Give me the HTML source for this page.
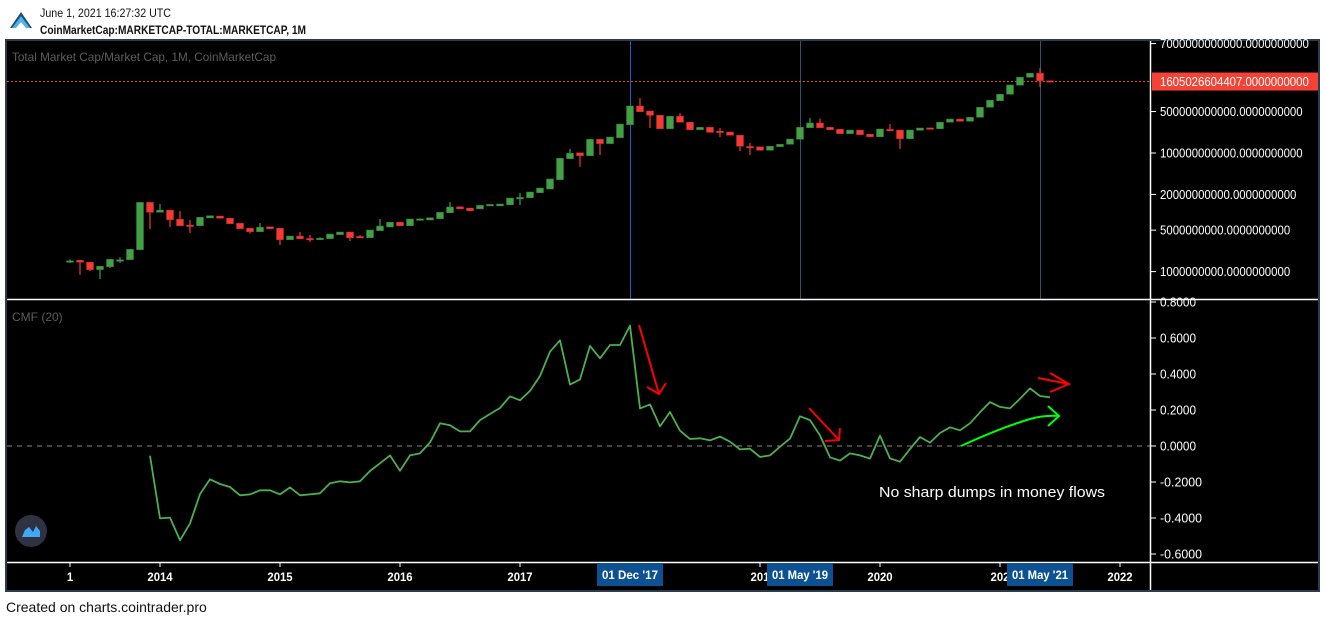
<!DOCTYPE html>
<html><head><meta charset="utf-8"><style>
html,body{margin:0;padding:0;background:#fff;width:1324px;height:622px;overflow:hidden}
svg{display:block}
text{font-family:"Liberation Sans",sans-serif}
</style></head><body>
<svg id="c" width="1324" height="622" xmlns="http://www.w3.org/2000/svg">
  <g>
    <polygon points="10,28 21,12 32,28 27,28 21,20 15,28" fill="#1b4f7a"/>
    <polygon points="12,28 21,16 30,28 26,28 21,22 16,28" fill="#4fb3e8"/>
    <text x="40" y="17" font-size="12" fill="#111" textLength="131" lengthAdjust="spacingAndGlyphs">June 1, 2021 16:27:32 UTC</text>
    <text x="40" y="34" font-size="12" font-weight="bold" fill="#111" textLength="266" lengthAdjust="spacingAndGlyphs">CoinMarketCap:MARKETCAP-TOTAL:MARKETCAP, 1M</text>
  </g>
  <rect x="5" y="39" width="1315" height="553" fill="#2a3d50"/>
  <rect x="7" y="41" width="1311" height="549" fill="#000"/>
  <g id="price"></g>
  <g id="cmf"></g>
  <g id="axes"></g>
  <text x="12" y="61" font-size="12" fill="#5d5d5d" textLength="264" lengthAdjust="spacingAndGlyphs">Total Market Cap/Market Cap, 1M, CoinMarketCap</text>
  <text x="12" y="321" font-size="12" fill="#5d5d5d">CMF (20)</text>
  <g fill="none" stroke-width="2">
    <path d="M639,325 L659,394 M647,387 L659,394 L666,383" stroke="#ff0000"/>
    <path d="M809,408 L839,440 M825,441 L839,440 L840,428" stroke="#ff0000"/>
    <path d="M1038,378 L1069,384 M1050,373 L1069,384 L1050,392" stroke="#ff0000"/>
    <path d="M961,446 Q1000,428 1030,419 Q1045,415 1059,416 M1048,406 L1059,416 L1048,426" stroke="#00ff00"/>
    <text x="879" y="497" font-size="15" fill="#fff" stroke="none" textLength="226" lengthAdjust="spacingAndGlyphs">No sharp dumps in money flows</text>
  </g>
  <g>
    <circle cx="31" cy="531" r="16" fill="#2f3241"/>
    <path d="M22,537 L25,530 L29,527 L33,532 L36,526 L40,531 L40,537 Z" fill="#3fa9f5"/>
  </g>
  <text x="6" y="612" font-size="14" fill="#111">Created on charts.cointrader.pro</text>
</svg>
<script>
// Monthly candles from Apr 2013 to Jun 2021 (values in billions USD)
const opens = [1.50,1.55,1.44,1.08,1.21,1.56,1.59,2.34,14.7,10.0,10.9,7.62,6.1,5.94,8.02,8.66,7.93,6.53,5.37,4.71,5.71,5.37,3.45,3.98,3.62,3.62,3.59,4.19,4.65,3.92,3.73,4.90,5.65,6.78,5.94,7.65,7.41,7.80,9.84,12.4,11.8,11.4,12.8,12.8,13.4,17.5,17.6,21.4,24.7,35.5,80.2,101,90.0,170,144,181,300,621,511,432,257,416,330,247,271,234,226,199,129,127,111,128,140,170,267,321,271,251,212,244,207,188,250,244,174,241,265,257,330,374,342,400,590,762,977,1387,1892,2208,1656];
const closes = [1.52,1.44,1.08,1.23,1.61,1.58,2.38,14.7,10.0,10.9,7.5,5.94,6.0,8.24,8.77,7.93,6.43,5.29,4.71,5.58,5.29,3.45,3.98,3.59,3.56,3.66,4.31,4.65,3.73,3.85,5.03,5.87,6.78,5.94,7.71,7.75,8.11,10.0,12.3,11.4,10.6,13.1,13.6,13.8,17.4,17.8,22.0,25.7,36.5,81.4,98.9,90.0,170,144,186,308,621,497,432,257,416,330,247,271,223,230,199,130,127,111,130,140,172,271,321,267,247,212,244,204,188,254,245,174,244,264,262,330,374,342,400,590,774,977,1403,1892,2208,1656,1605];
const highs = [1.60,1.58,null,null,null,1.75,null,null,null,13.8,null,10.5,7.45,null,null,null,null,null,null,6.6,null,null,null,4.65,4.14,3.8,null,null,null,4.1,null,7.71,null,null,null,7.9,null,null,14.9,null,null,null,null,null,null,21.2,null,null,null,null,117,null,null,null,null,null,null,846,null,null,null,473,null,null,null,264,null,null,147,null,null,null,null,null,389,380,null,null,null,null,null,null,308,null,null,null,null,null,null,null,null,null,null,null,null,null,null,2710,null];
const lows = [1.40,0.88,1.02,0.75,1.15,1.40,1.95,null,5.23,null,5.65,null,4.48,null,null,null,null,null,4.4,null,null,2.81,null,null,3.16,3.5,null,null,3.28,3.7,null,null,null,null,null,7.2,null,null,null,null,null,null,null,null,null,13.3,null,null,null,null,null,58.7,null,92.5,null,null,null,null,264,null,null,null,null,null,null,186,null,108,92.5,null,null,null,null,null,null,null,null,null,null,null,null,null,236,117,null,null,null,null,null,null,null,null,null,null,null,null,null,1297,null];
const startMonthIndex = 0; // Apr 2013
// CMF(20) values, Dec 2013 .. Jun 2021
const cmfStart = 8;
const cmfValues = [-0.054,-0.402,-0.398,-0.524,-0.430,-0.267,-0.185,-0.211,-0.228,-0.274,-0.269,-0.246,-0.246,-0.269,-0.230,-0.274,-0.269,-0.263,-0.207,-0.196,-0.202,-0.196,-0.139,-0.096,-0.052,-0.137,-0.052,-0.041,0.020,0.126,0.115,0.081,0.081,0.144,0.178,0.211,0.276,0.254,0.306,0.389,0.524,0.587,0.341,0.370,0.556,0.487,0.561,0.561,0.669,0.209,0.231,0.109,0.189,0.085,0.039,0.043,0.031,0.052,0.024,-0.019,-0.015,-0.061,-0.052,-0.004,0.041,0.165,0.144,0.059,-0.063,-0.081,-0.041,-0.052,-0.070,0.057,-0.069,-0.087,-0.017,0.050,0.019,0.072,0.104,0.087,0.126,0.187,0.244,0.217,0.209,0.263,0.320,0.278,0.270];
const priceTicks = [7000,500,100,20,5,1];
const priceTickLabels = ["7000000000000.0000000000","500000000000.0000000000","100000000000.0000000000","20000000000.0000000000","5000000000.0000000000","1000000000.0000000000"];
const lastPrice = 1605.026604407;
const lastPriceLabel = "1605026604407.0000000000";
const cmfTicks = [0.8,0.6,0.4,0.2,0,-0.2,-0.4,-0.6];
const cmfTickLabels = ["0.8000","0.6000","0.4000","0.2000","0.0000","-0.2000","-0.4000","-0.6000"];
const timeTickMonths = [0,9,21,33,45,57,69,81,93,105];
const timeTickLabels = ["1","2014","2015","2016","2017","201","2020","202","2022"];
const timeTickLabelMonths = [0,9,21,33,45,69,81,93,105];
const markerMonths = [56,73,97];
const markerLabels = ["01 Dec '17","01 May '19","01 May '21"];

const NS="http://www.w3.org/2000/svg";
function mk(tag,attrs,parent){const e=document.createElementNS(NS,tag);for(const k in attrs)e.setAttribute(k,attrs[k]);parent.appendChild(e);return e;}
const xOf = m => 70 + m*10;
const yP = v => 153 - 59.3*Math.log10(v/100);
const yC = v => 446 - v*180;
const price=document.getElementById('price'), cmf=document.getElementById('cmf'), axes=document.getElementById('axes');

markerMonths.forEach((m,i)=>{
  const l=mk('line',{x1:xOf(m)+0.5,x2:xOf(m)+0.5,y1:41,y2:299,stroke:i===0?'#1565c0':'#2f5378','stroke-width':1},price);
  
  
});
const lp=mk('line',{x1:7,x2:1150,y1:yP(lastPrice),y2:yP(lastPrice),stroke:'#f44336','stroke-dasharray':'2,2','stroke-width':1},price);



for(let i=0;i<opens.length;i++){
  const o=opens[i],c=closes[i],x=xOf(startMonthIndex+i);
  const up=c>=o, col=up?'#43a047':'#f23b32';
  const g=mk('g',{},price);
  
  
  const hi=highs[i]!=null?highs[i]:Math.max(o,c), lo=lows[i]!=null?lows[i]:Math.min(o,c);
  mk('line',{x1:x,x2:x,y1:yP(hi),y2:yP(lo),stroke:col,'stroke-width':1.2},g);
  const t=yP(Math.max(o,c)), b=yP(Math.min(o,c));
  mk('rect',{x:x-3.5,y:t,width:7,height:Math.max(1.5,b-t),fill:col,stroke:up?'#2e7d32':'#c62828','stroke-width':0.5},g);
}

const z=mk('line',{x1:7,x2:1150,y1:yC(0),y2:yC(0),stroke:'#888','stroke-dasharray':'5,5','stroke-width':1},cmf);


const pts=cmfValues.map((v,i)=>xOf(cmfStart+i)+','+yC(v).toFixed(1)).join(' ');
const pl=mk('polyline',{points:pts,fill:'none',stroke:'#4caf50','stroke-width':1.8,'stroke-linejoin':'round'},cmf);



mk('line',{x1:7,x2:1318,y1:299.5,y2:299.5,stroke:'#fff','stroke-width':1.5},axes);
mk('line',{x1:7,x2:1318,y1:562.5,y2:562.5,stroke:'#fff','stroke-width':1.5},axes);
mk('line',{x1:1150.5,x2:1150.5,y1:41,y2:590,stroke:'#fff','stroke-width':1.5},axes);

priceTicks.forEach((v,i)=>{
  const y=yP(v);
  mk('line',{x1:1151,x2:1156,y1:y,y2:y,stroke:'#fff'},axes);
  const s=priceTickLabels[i];
  const t=mk('text',{x:1160,y:y+4.5,'font-size':13,fill:'#fff',textLength:(s.length*6.2).toFixed(1),lengthAdjust:'spacingAndGlyphs'},axes);
  t.textContent=s;
  
  
});
const tag=mk('rect',{x:1152,y:yP(lastPrice)-9,width:166,height:18,fill:'#f44336'},axes);


const tt=mk('text',{x:1160,y:yP(lastPrice)+4.5,'font-size':13,fill:'#fff',textLength:(lastPriceLabel.length*6.2).toFixed(1),lengthAdjust:'spacingAndGlyphs'},axes);
tt.textContent=lastPriceLabel;



cmfTicks.forEach((v,i)=>{
  const y=yC(v);
  mk('line',{x1:1151,x2:1156,y1:y,y2:y,stroke:'#fff'},axes);
  const s=cmfTickLabels[i];
  const t=mk('text',{x:1160,y:y+4.5,'font-size':13,fill:'#fff',textLength:(s.length*6.0).toFixed(1),lengthAdjust:'spacingAndGlyphs'},axes);
  t.textContent=s;
  
  
});

timeTickMonths.forEach(m=>{ if(xOf(m)<1150) mk('line',{x1:xOf(m),x2:xOf(m),y1:563,y2:567,stroke:'#fff'},axes); });
timeTickLabels.forEach((s,i)=>{
  const t=mk('text',{x:xOf(timeTickLabelMonths[i]),y:581,'font-size':12,'font-weight':'bold',fill:'#fff','text-anchor':'middle',textLength:(s.length*6.3).toFixed(1),lengthAdjust:'spacingAndGlyphs'},axes);
  t.textContent=s;
  
  
});
markerLabels.forEach((s,i)=>{
  const x=xOf(markerMonths[i]);
  const r=mk('rect',{x:x-33,y:563,width:66,height:23,fill:'#0d5192'},axes);
  
  
  const t=mk('text',{x:x,y:579,'font-size':12,'font-weight':'bold',fill:'#fff','text-anchor':'middle',textLength:'56',lengthAdjust:'spacingAndGlyphs'},axes);
  t.textContent=s;
  
  
});
</script>
</body></html>
